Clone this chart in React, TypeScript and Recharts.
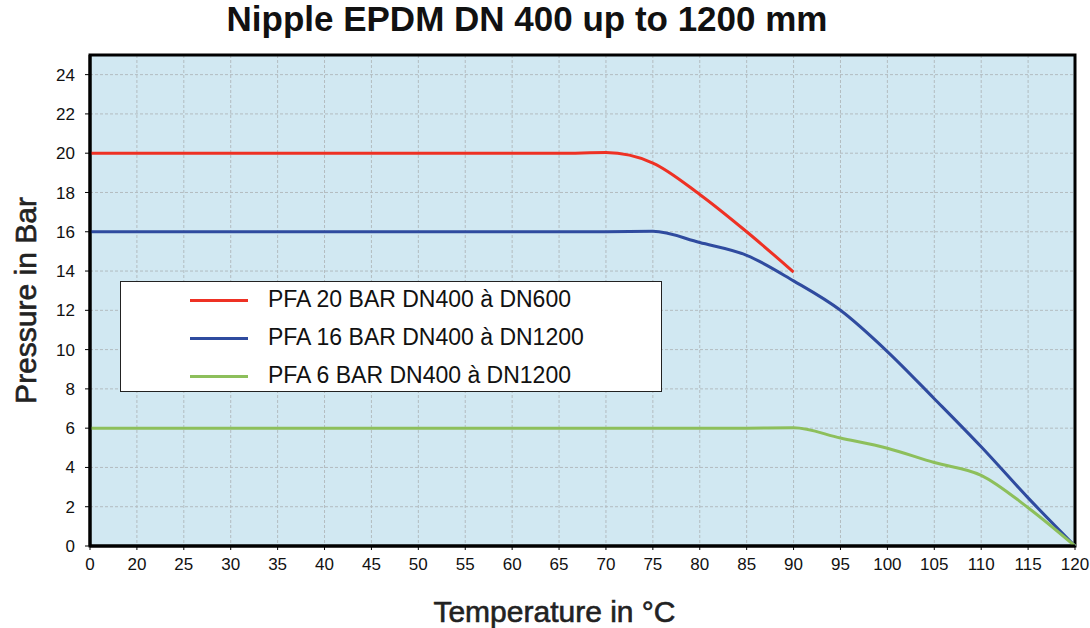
import React from 'react';
import { LineChart, Line, XAxis, YAxis, CartesianGrid, ReferenceArea } from 'recharts';

const temps = ['0', '20', '25', '30', '35', '40', '45', '50', '55', '60', '65', '70', '75', '80', '85', '90', '95', '100', '105', '110', '115', '120'];
const pfa20 = [20, 20, 20, 20, 20, 20, 20, 20, 20, 20, 20, 20.03, 19.5, 17.9, 16.0, 13.95, null, null, null, null, null, null];
const pfa16 = [16, 16, 16, 16, 16, 16, 16, 16, 16, 16, 16, 16, 16.02, 15.45, 14.8, 13.5, 12.0, 9.9, 7.5, 5.05, 2.45, 0];
const pfa6 = [6, 6, 6, 6, 6, 6, 6, 6, 6, 6, 6, 6, 6, 6, 6, 6.02, 5.5, 4.98, 4.25, 3.6, 1.95, 0];
const yTicks = [0, 2, 4, 6, 8, 10, 12, 14, 16, 18, 20, 22, 24];

const seriesNames = ['PFA 20 BAR DN400 à DN600', 'PFA 16 BAR DN400 à DN1200', 'PFA 6 BAR DN400 à DN1200'];
const seriesColors = ['#ee3124', '#2f4b9f', '#8dbf5b'];

const data = temps.map((t, i) => ({ t, s20: pfa20[i], s16: pfa16[i], s6: pfa6[i] }));

const FONT = '"Liberation Sans", Arial, sans-serif';

const LegendBox = () => (
  <div
    style={{
      position: 'absolute',
      left: 120,
      top: 281,
      width: 540,
      height: 109,
      background: '#fff',
      border: '1px solid #222',
      fontFamily: FONT,
      fontSize: 23,
      color: '#111',
    }}
  >
    {seriesNames.map((n, i) => (
      <div key={n} style={{ position: 'relative', height: 38 }}>
        <div
          style={{
            position: 'absolute',
            left: 69,
            top: 17,
            width: 58,
            height: 3,
            background: seriesColors[i],
          }}
        />
        <div style={{ position: 'absolute', left: 147, top: 4, whiteSpace: 'nowrap' }}>{n}</div>
      </div>
    ))}
  </div>
);

export default function App() {
  return (
    <div style={{ position: 'absolute', left: 0, top: 0, width: 1090, height: 628, background: '#fff' }}>
      <div
        style={{
          position: 'absolute',
          left: 0,
          top: -1,
          width: 1054,
          textAlign: 'center',
          fontFamily: FONT,
          fontWeight: 'bold',
          fontSize: 35,
          color: '#111',
        }}
      >
        Nipple EPDM DN 400 up to 1200 mm
      </div>
      <LineChart width={1090} height={628} data={data} margin={{ top: 55, right: 15, left: 0, bottom: 0 }}>
        <CartesianGrid fill="#d1e8f2" stroke="#b3bcc0" strokeDasharray="3 2" />
        <XAxis
          dataKey="t"
          height={82}
          axisLine={{ stroke: '#000', strokeWidth: 3 }}
          tickLine={{ stroke: '#000' }}
          tickSize={4}
          tickMargin={8}
          interval={0}
          tick={{ fill: '#111', fontSize: 17, fontFamily: FONT }}
          label={{ value: 'Temperature in °C', position: 'insideBottom', offset: 6, dx: -28, fill: '#222', stroke: '#222', strokeWidth: 0.6, fontSize: 30, fontFamily: FONT }}
        />
        <YAxis
          type="number"
          domain={[0, 25]}
          ticks={yTicks}
          width={90}
          interval={0}
          axisLine={{ stroke: '#000', strokeWidth: 3 }}
          tickLine={{ stroke: '#000' }}
          tickSize={5}
          tickMargin={10}
          tick={{ fill: '#111', fontSize: 17, fontFamily: FONT }}
          label={{ value: 'Pressure in Bar', angle: -90, position: 'insideLeft', offset: 25, fill: '#222', stroke: '#222', strokeWidth: 0.6, fontSize: 30, fontFamily: FONT, style: { textAnchor: 'middle' } }}
        />
        <ReferenceArea x1="0" x2="120" y1={0} y2={25} fill="none" stroke="#000" strokeWidth={3} ifOverflow="visible" />
        <Line dataKey="s20" name={seriesNames[0]} stroke={seriesColors[0]} strokeWidth={3} type="monotone" dot={false} isAnimationActive={false} />
        <Line dataKey="s16" name={seriesNames[1]} stroke={seriesColors[1]} strokeWidth={3} type="monotone" dot={false} isAnimationActive={false} />
        <Line dataKey="s6" name={seriesNames[2]} stroke={seriesColors[2]} strokeWidth={3} type="monotone" dot={false} isAnimationActive={false} />
      </LineChart>
      <LegendBox />
    </div>
  );
}
